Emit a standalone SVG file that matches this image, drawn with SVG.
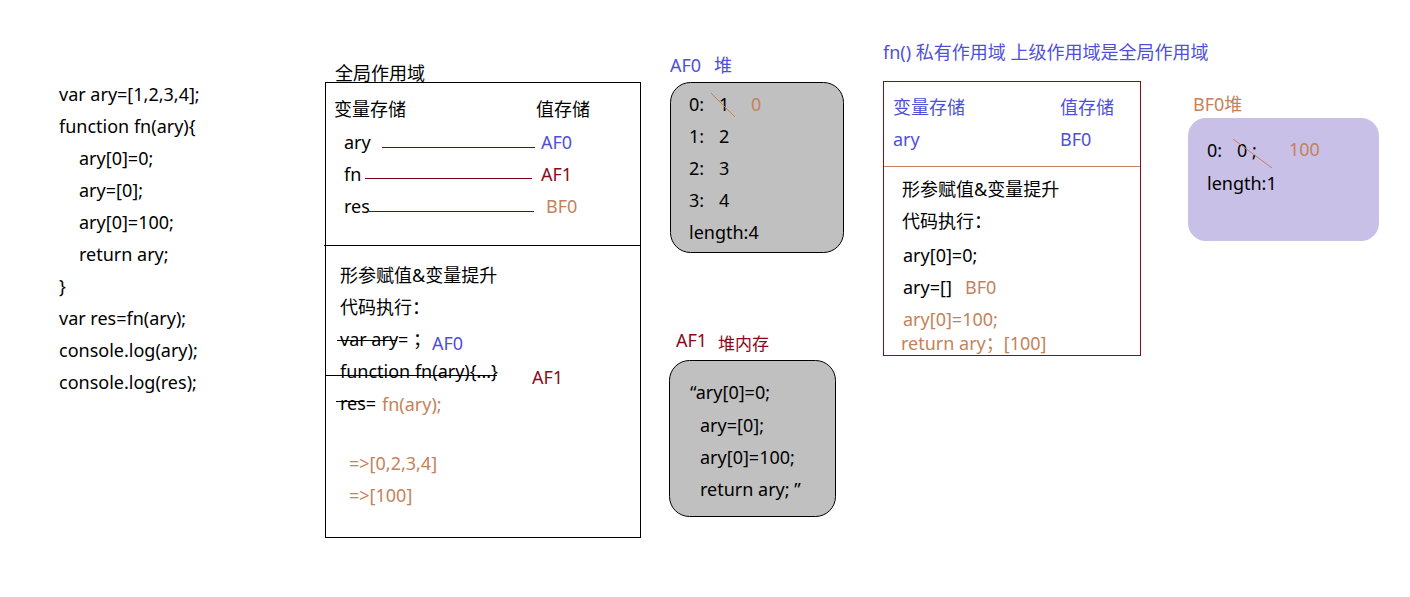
<svg xmlns="http://www.w3.org/2000/svg" width="1410" height="597" viewBox="0 0 1410 597">
<style>
text{font-family:"Noto Sans","Noto Sans CJK SC",sans-serif;font-size:18px;fill:#000}
.b{fill:#4F4FD9}
.r{fill:#8B0A1A}
.o{fill:#C5825A}
.box{fill:#fff;stroke:#000;stroke-width:1}
.heap{fill:#C0C0C0;stroke:#000;stroke-width:1}
.lr{stroke:#7A0018;stroke-width:1}
.st{stroke:#000;stroke-width:1}
.so{stroke:#C5825A;stroke-width:1}
</style>
<rect width="1410" height="597" fill="#fff"/>
<g id="code">
<text x="59" y="101">var ary=[1,2,3,4];</text>
<text x="59" y="133">function fn(ary){</text>
<text x="79" y="165">ary[0]=0;</text>
<text x="79" y="197">ary=[0];</text>
<text x="79" y="229">ary[0]=100;</text>
<text x="79" y="261">return ary;</text>
<text x="59" y="293">}</text>
<text x="59" y="325">var res=fn(ary);</text>
<text x="59" y="357">console.log(ary);</text>
<text x="59" y="389">console.log(res);</text>
</g>
<g id="global-scope">
<text x="335" y="80">全局作用域</text>
<rect class="box" x="325.5" y="82.5" width="315" height="455"/>
<line x1="324" y1="245.5" x2="641" y2="245.5" stroke="#000"/>
<text x="334" y="116">变量存储</text>
<text x="536" y="116">值存储</text>
<text x="344" y="149">ary</text>
<text x="541" y="149" class="b">AF0</text>
<text x="344" y="181">fn</text>
<text x="541" y="181" class="r">AF1</text>
<text x="344" y="213">res</text>
<text x="546" y="213" class="o">BF0</text>
<text x="340" y="282">形参赋值&amp;变量提升</text>
<text x="340" y="314">代码执行：</text>
<text x="340" y="346">var ary= ；</text>
<text x="432" y="350" class="b">AF0</text>
<text x="340" y="378">function fn(ary){...}</text>
<text x="532" y="384" class="r">AF1</text>
<text x="340" y="410">res=</text>
<text x="382" y="411" class="o">fn(ary);</text>
<text x="349" y="470" class="o">=&gt;[0,2,3,4]</text>
<text x="349" y="502" class="o">=&gt;[100]</text>
</g>
<g id="af0-heap">
<text x="670" y="72" class="b">AF0</text>
<text x="714" y="72" class="b">堆</text>
<rect class="heap" x="670.5" y="82.5" width="173" height="170" rx="20"/>
<text x="689" y="111">0:</text><text x="719" y="111">1</text>
<text x="751" y="111" class="o">0</text>
<text x="689" y="143">1:</text><text x="719" y="143">2</text>
<text x="689" y="175">2:</text><text x="719" y="175">3</text>
<text x="689" y="207">3:</text><text x="719" y="207">4</text>
<text x="689" y="239">length:4</text>
</g>
<g id="af1-heap">
<text x="676" y="347" class="r">AF1</text>
<text x="718" y="350" class="r" style="font-size:17px">堆内存</text>
<rect class="heap" x="669.5" y="360.5" width="166" height="156" rx="20"/>
<text x="690" y="399">“ary[0]=0;</text>
<text x="700" y="432">ary=[0];</text>
<text x="700" y="464">ary[0]=100;</text>
<text x="700" y="496">return ary; ”</text>
</g>
<g id="fn-scope">
<text x="883" y="59" class="b">fn() 私有作用域 上级作用域是全局作用域</text>
<rect x="883.5" y="81.5" width="257" height="274" fill="#fff" stroke="#8B0A1A"/>
<line x1="884" y1="166.5" x2="1140" y2="166.5" stroke="#C5825A"/>
<text x="893" y="114" class="b">变量存储</text>
<text x="1060" y="114" class="b">值存储</text>
<text x="893" y="146" class="b">ary</text>
<text x="1060" y="146" class="b">BF0</text>
<text x="902" y="196">形参赋值&amp;变量提升</text>
<text x="902" y="228">代码执行：</text>
<text x="903" y="262">ary[0]=0;</text>
<text x="903" y="294">ary=[]</text>
<text x="965" y="294" class="o">BF0</text>
<text x="903" y="326" class="o">ary[0]=100;</text>
<text x="901" y="350" class="o">return ary；[100]</text>
</g>
<g id="bf0-heap">
<text x="1193" y="111" class="o">BF0堆</text>
<rect x="1188" y="118" width="191" height="123" rx="18" fill="#C8C0E6"/>
<text x="1207" y="157">0:</text><text x="1237" y="157">0 ;</text>
<text x="1289" y="156" class="o">100</text>
<text x="1207" y="190">length:1</text>
</g>
<g id="connectors">
<line class="lr" x1="382" y1="147.5" x2="535" y2="147.5"/>
<line class="lr" x1="365" y1="178.5" x2="532" y2="178.5"/>
<line class="lr" x1="369" y1="211.5" x2="534" y2="211.5"/>
<line class="st" x1="337" y1="340.5" x2="397" y2="340.5"/>
<line class="st" x1="325" y1="375.5" x2="497" y2="375.5"/>
<line class="st" x1="336" y1="401.5" x2="364" y2="401.5"/>
<line class="so" x1="711" y1="93" x2="735" y2="117"/>
<line class="so" x1="1233" y1="139" x2="1272" y2="168"/>
</g>
</svg>
